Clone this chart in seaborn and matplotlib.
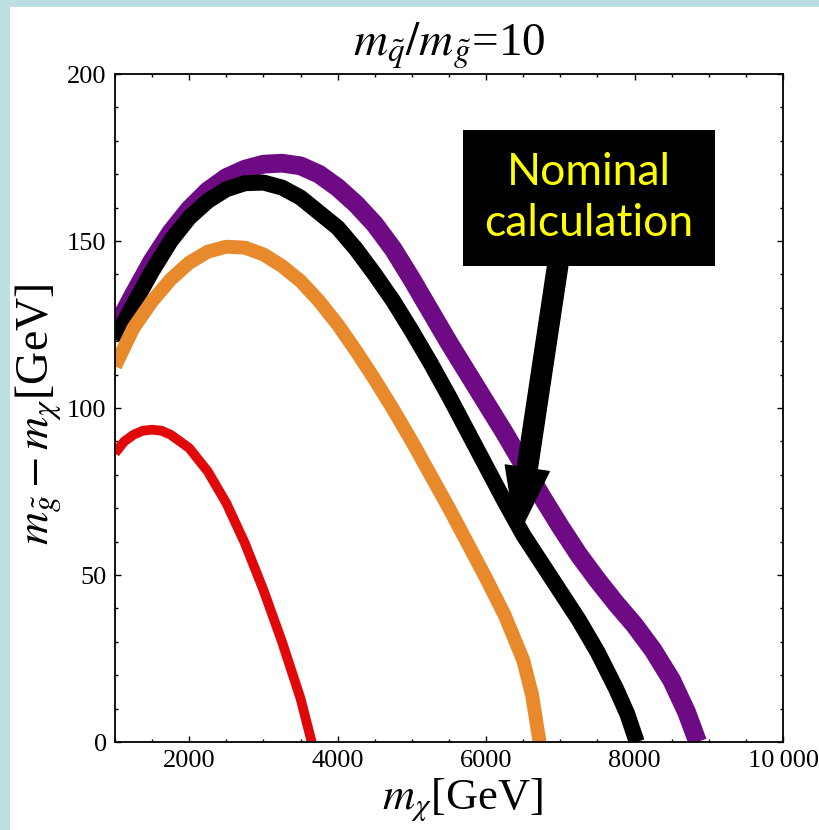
import numpy as np
import pandas as pd
import matplotlib
matplotlib.use("Agg")
import matplotlib.pyplot as plt
import seaborn as sns
from matplotlib.patches import Rectangle, FancyArrowPatch, ArrowStyle
from matplotlib.ticker import MultipleLocator, FixedLocator

# ---- data ----
purple_x = [1000, 1250, 1500, 1750, 2000, 2250, 2500, 2750, 3000, 3250, 3500, 3750,
            4000, 4250, 4500, 4750, 5000, 5250, 5500, 5750, 6000, 6250, 6500, 6750,
            7000, 7250, 7500, 7750, 8000, 8250, 8500, 8700, 8850]
purple_y = [123.5, 134, 144, 152.5, 159.5, 165, 169, 171.5, 173, 173.3, 172.5, 170,
            166, 161, 155, 147.5, 138.5, 129, 119.5, 110.5, 101.5, 92.5, 83, 73.5,
            64.5, 56, 48.5, 41.5, 35, 27.5, 18.5, 9, 0]

black_x = [1000, 1250, 1500, 1750, 2000, 2250, 2500, 2750, 3000, 3250, 3500, 3750,
           4000, 4250, 4500, 4750, 5000, 5250, 5500, 5750, 6000, 6250, 6500, 6750,
           7000, 7250, 7500, 7750, 7900, 8030]
black_y = [120.5, 131, 141, 150, 157, 162, 165.5, 167.3, 167.5, 166, 163, 158.5,
           154, 147.5, 140, 132, 123, 113.5, 103.5, 93, 82.5, 72, 62, 53.5,
           45, 36.5, 27, 16, 8.5, 0]

orange_x = [1000, 1250, 1500, 1750, 2000, 2250, 2500, 2750, 3000, 3250, 3500, 3750,
            4000, 4250, 4500, 4750, 5000, 5250, 5500, 5750, 6000, 6250, 6500, 6620, 6720]
orange_y = [112.5, 124, 132, 138.5, 143.5, 146.8, 148.3, 148, 146, 142.5, 138, 132,
            125, 117, 108.5, 99.5, 90, 80, 70, 59.5, 49, 38, 24.5, 14, 0]

red_x = [1000, 1125, 1250, 1375, 1500, 1625, 1750, 2000, 2250, 2500, 2750, 3000,
         3250, 3500, 3650]
red_y = [86.5, 90, 92, 93.2, 93.5, 93.2, 92, 88, 81, 71.5, 59.5, 45.5,
         30, 13, 0]

x_ticks = [2000, 4000, 6000, 8000, 10000]
x_ticklabels = ["2000", "4000", "6000", "8000", "10\u2009000"]
y_ticks = [0, 50, 100, 150, 200]
y_ticklabels = ["0", "50", "100", "150", "200"]

title_text = r"$m_{\tilde{q}}/m_{\tilde{g}}$=10"
xlabel_text = r"$m_\chi$[GeV]"
ylabel_text = r"$m_{\tilde{g}}-m_\chi$[GeV]"
note_text = "Nominal\ncalculation"

series = [
    ("purple", purple_x, purple_y, "#6E0A84", 13.5),
    ("black", black_x, black_y, "#000000", 11.5),
    ("orange", orange_x, orange_y, "#E8892C", 10.0),
    ("red", red_x, red_y, "#E00808", 7.0),
]

# ---- styling ----
sns.set_theme(style="ticks")
plt.rcParams['font.family'] = ['Liberation Serif', 'DejaVu Serif']
plt.rcParams['mathtext.fontset'] = 'stix'

W, H = 819, 830
fig = plt.figure(figsize=(W / 100, H / 100), dpi=100, facecolor="#BBDFE3")
fig.add_artist(Rectangle((10 / W, 0), 1, 1 - 7 / H, transform=fig.transFigure,
                         facecolor="white", edgecolor="none", zorder=-5))

ax = fig.add_axes([115 / W, (H - 742) / H, 668 / W, 668 / H])
ax.set_facecolor("white")

for name, xs, ys, color, lw in series:
    df = pd.DataFrame({"x": xs, "y": ys})
    sns.lineplot(data=df, x="x", y="y", color=color, linewidth=lw, ax=ax,
                 sort=False, estimator=None, solid_capstyle="butt",
                 solid_joinstyle="round")

ax.set_xlim(1000, 10000)
ax.set_ylim(0, 200)
ax.xaxis.set_major_locator(FixedLocator(x_ticks))
ax.set_xticklabels(x_ticklabels)
ax.yaxis.set_major_locator(FixedLocator(y_ticks))
ax.set_yticklabels(y_ticklabels)
ax.xaxis.set_minor_locator(MultipleLocator(500))
ax.yaxis.set_minor_locator(MultipleLocator(10))
ax.tick_params(which="both", direction="in", top=True, right=True, color="black",
               width=1.0, labelsize=19, labelcolor="black", pad=6)
ax.tick_params(which="major", length=4)
ax.tick_params(which="minor", length=2)
for s in ax.spines.values():
    s.set_linewidth(1.3)
    s.set_color("black")

ax.set_xlabel(xlabel_text, fontsize=32, color="black")
ax.xaxis.set_label_coords((462 - 115) / 668, (742 - 776) / 668)
ax.set_ylabel(ylabel_text, fontsize=33, color="black")
ax.yaxis.set_label_coords((64 - 115) / 668, (742 - 414) / 668)

fig.text(449 / W, 1 - 56 / H, title_text, ha="center", va="baseline", fontsize=34,
         color="black")

# ---- annotation box + arrow ----
ax.add_patch(Rectangle((5688, 142.5), 9082 - 5688, 183.2 - 142.5, facecolor="black",
                       edgecolor="none", zorder=6, clip_on=False))
ax.text(7385, 162.9, note_text, ha="center", va="center", color="#FFFF00",
        family=["Lato", "DejaVu Sans"], fontsize=32, linespacing=1.32, zorder=7)
arrow = FancyArrowPatch((6981, 145), (6415, 61.4),
                        arrowstyle=ArrowStyle.Simple(head_length=5.0, head_width=3.2, tail_width=1.45),
                        mutation_scale=10, color="black", shrinkA=0, shrinkB=0, zorder=6)
ax.add_patch(arrow)

fig.savefig("out.png", dpi=100, facecolor=fig.get_facecolor())
